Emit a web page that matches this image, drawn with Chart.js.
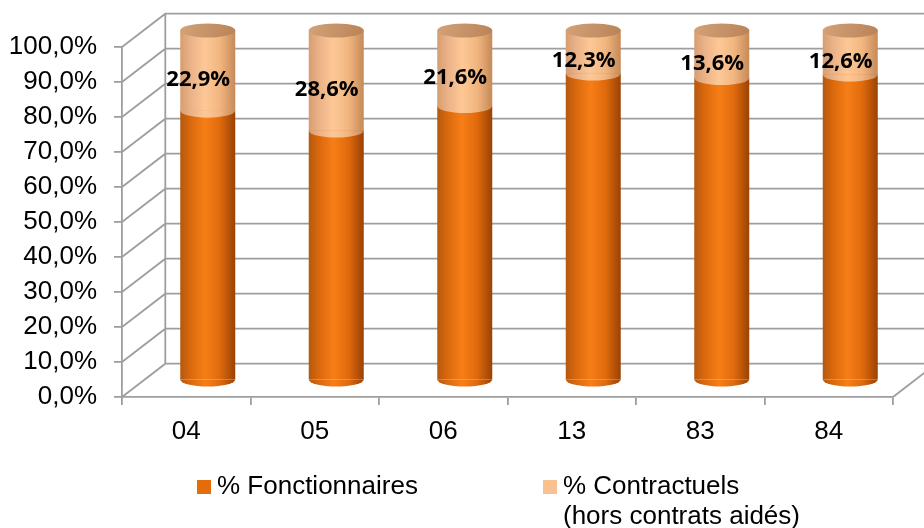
<!DOCTYPE html>
<html>
<head>
<meta charset="utf-8">
<script src="https://cdn.jsdelivr.net/npm/chart.js@4.4.1/dist/chart.umd.min.js"></script>
<style>
  html, body { margin:0; padding:0; background:#fff; }
  #wrap { width:924px; height:528px; position:relative; }
</style>
</head>
<body>
<div id="wrap"><canvas id="chart"></canvas></div>
<script>
// categories and series
const CATEGORIES = ["04", "05", "06", "13", "83", "84"];
const FONCTIONNAIRES = [77.1, 71.4, 78.4, 87.7, 86.4, 87.4];
const CONTRACTUELS = [22.9, 28.6, 21.6, 12.3, 13.6, 12.6];
const Y_TICKS = ["0,0%", "10,0%", "20,0%", "30,0%", "40,0%", "50,0%", "60,0%", "70,0%", "80,0%", "90,0%", "100,0%"];
const SERIES_LABELS = [["% Fonctionnaires"], ["% Contractuels", "(hors contrats aidés)"]];

const GRID = '#9e9e9e';
const FONT = '"Liberation Sans", Arial, sans-serif';
// depth of the 3d box (back wall offset) and of the cylinders (half depth)
const DEPTH = { dx: 43.3, dy: -33.3 };
const BAR_SHIFT = { dx: 21.5, dy: -16.5 };
const RY = 7;

const BODY = [
  { stops: [[0,'#b45810'],[0.18,'#d9680c'],[0.45,'#f77e17'],[0.72,'#e06a0c'],[1,'#9a4205']], legend:'#e46c0a' },
  { stops: [[0,'#d69d70'],[0.18,'#eab187'],[0.45,'#fdc896'],[0.72,'#f1b680'],[1,'#c68a58']], legend:'#fac090' }
];

function cylGradient(c, cx, w, which) {
  const g = c.createLinearGradient(cx - w/2, 0, cx + w/2, 0);
  BODY[which].stops.forEach(s => g.addColorStop(s[0], s[1]));
  return g;
}

function bodyColor(which) {
  return (ctx) => {
    const chart = ctx.chart;
    const xs = chart.scales && chart.scales.x;
    if (!xs || !chart.chartArea || ctx.dataIndex === undefined) return BODY[which].legend;
    const cx = xs.getPixelForValue(ctx.dataIndex);
    const w = (xs.right - xs.left) / CATEGORIES.length * 0.428;
    return cylGradient(chart.ctx, cx, w, which);
  };
}

const cylinders3d = {
  id: 'cylinders3d',
  beforeDatasetsDraw(chart) {
    const c = chart.ctx, a = chart.chartArea, ys = chart.scales.y;
    c.save();
    c.strokeStyle = GRID;
    c.lineWidth = 1.8;
    c.beginPath();
    ys.ticks.forEach(t => {
      const y = ys.getPixelForValue(t.value);
      c.moveTo(a.left, y);
      c.lineTo(a.left + DEPTH.dx, y + DEPTH.dy);
      c.lineTo(chart.width + 5, y + DEPTH.dy);
    });
    // back wall left edge
    c.moveTo(a.left + DEPTH.dx, a.top + DEPTH.dy);
    c.lineTo(a.left + DEPTH.dx, a.bottom + DEPTH.dy);
    // floor right edge
    c.moveTo(a.right, a.bottom);
    c.lineTo(a.right + DEPTH.dx, a.bottom + DEPTH.dy);
    c.stroke();
    c.restore();

    c.save();
    c.translate(BAR_SHIFT.dx, BAR_SHIFT.dy);
  },
  afterDatasetsDraw(chart) {
    const c = chart.ctx;
    const m0 = chart.getDatasetMeta(0).data;
    const m1 = chart.getDatasetMeta(1).data;
    m0.forEach((el, i) => {
      const w = el.width;
      // bottom rounding of the lower segment
      c.beginPath();
      c.ellipse(el.x, el.base, w/2, RY, 0, 0, Math.PI);
      c.closePath();
      c.fillStyle = cylGradient(c, el.x, w, 0);
      c.fill();
      // joint: front half of the upper segment bottom
      const up = m1[i];
      c.beginPath();
      c.ellipse(up.x, up.base, w/2, RY, 0, 0, Math.PI);
      c.closePath();
      c.fillStyle = cylGradient(c, up.x, w, 1);
      c.fill();
      // top cap
      const g = c.createLinearGradient(up.x - w/2, up.y - RY, up.x + w/2, up.y + RY);
      g.addColorStop(0, '#d3a27a');
      g.addColorStop(1, '#b98356');
      c.beginPath();
      c.ellipse(up.x, up.y, w/2, RY, 0, 0, Math.PI * 2);
      c.fillStyle = g;
      c.fill();
    });
    c.restore();
  },
  afterDraw(chart) {
    const c = chart.ctx;
    // value labels of the contractuels segment
    c.save();
    c.font = 'bold 22px "Open Sans", sans-serif';
    c.fillStyle = '#000';
    c.textAlign = 'center';
    c.textBaseline = 'middle';
    chart.getDatasetMeta(1).data.forEach((el, i) => {
      const txt = CONTRACTUELS[i].toFixed(1).replace('.', ',') + '%';
      c.fillText(txt, el.x + 12, (el.y + el.base) / 2 - 7.5);
    });
    // legend
    const LEG_X = [197, 543];
    c.font = '26px ' + FONT;
    c.textAlign = 'left';
    SERIES_LABELS.forEach((lines, k) => {
      c.fillStyle = BODY[k].legend;
      c.fillRect(LEG_X[k], 480, 14, 14);
      c.fillStyle = '#000';
      lines.forEach((t, j) => c.fillText(t, LEG_X[k] + 20, 487 + j * 30));
    });
    c.restore();
  }
};

const axisCommon = {
  stacked: true,
  grid: { display: true, drawOnChartArea: false, drawTicks: true, tickLength: 8, color: GRID, lineWidth: 1.8 },
  border: { display: true, color: GRID, width: 1.8 }
};

new Chart(document.getElementById('chart'), {
  type: 'bar',
  data: {
    labels: CATEGORIES,
    datasets: [
      { label: SERIES_LABELS[0].join(' '), data: FONCTIONNAIRES, backgroundColor: bodyColor(0), borderWidth: 0, clip: false },
      { label: SERIES_LABELS[1].join(' '), data: CONTRACTUELS, backgroundColor: bodyColor(1), borderWidth: 0, clip: false }
    ]
  },
  options: {
    responsive: true,
    maintainAspectRatio: false,
    animation: false,
    layout: { padding: { top: 47, right: 31, left: 0, bottom: 0 } },
    datasets: { bar: { categoryPercentage: 1, barPercentage: 0.428 } },
    plugins: { legend: { display: false }, tooltip: { enabled: false } },
    scales: {
      x: Object.assign({}, axisCommon, {
        grid: Object.assign({}, axisCommon.grid, { offset: true }),
        ticks: { color: '#000', font: { family: FONT, size: 26 }, padding: 11 },
        afterFit: s => { s.height = 131; }
      }),
      y: Object.assign({}, axisCommon, {
        min: 0, max: 100,
        ticks: { stepSize: 10, color: '#000', font: { family: FONT, size: 26 }, padding: 17,
                 callback: (v, i) => Y_TICKS[i] },
        afterFit: s => { s.width = 122; }
      })
    }
  },
  plugins: [cylinders3d]
});
</script>
</body>
</html>
